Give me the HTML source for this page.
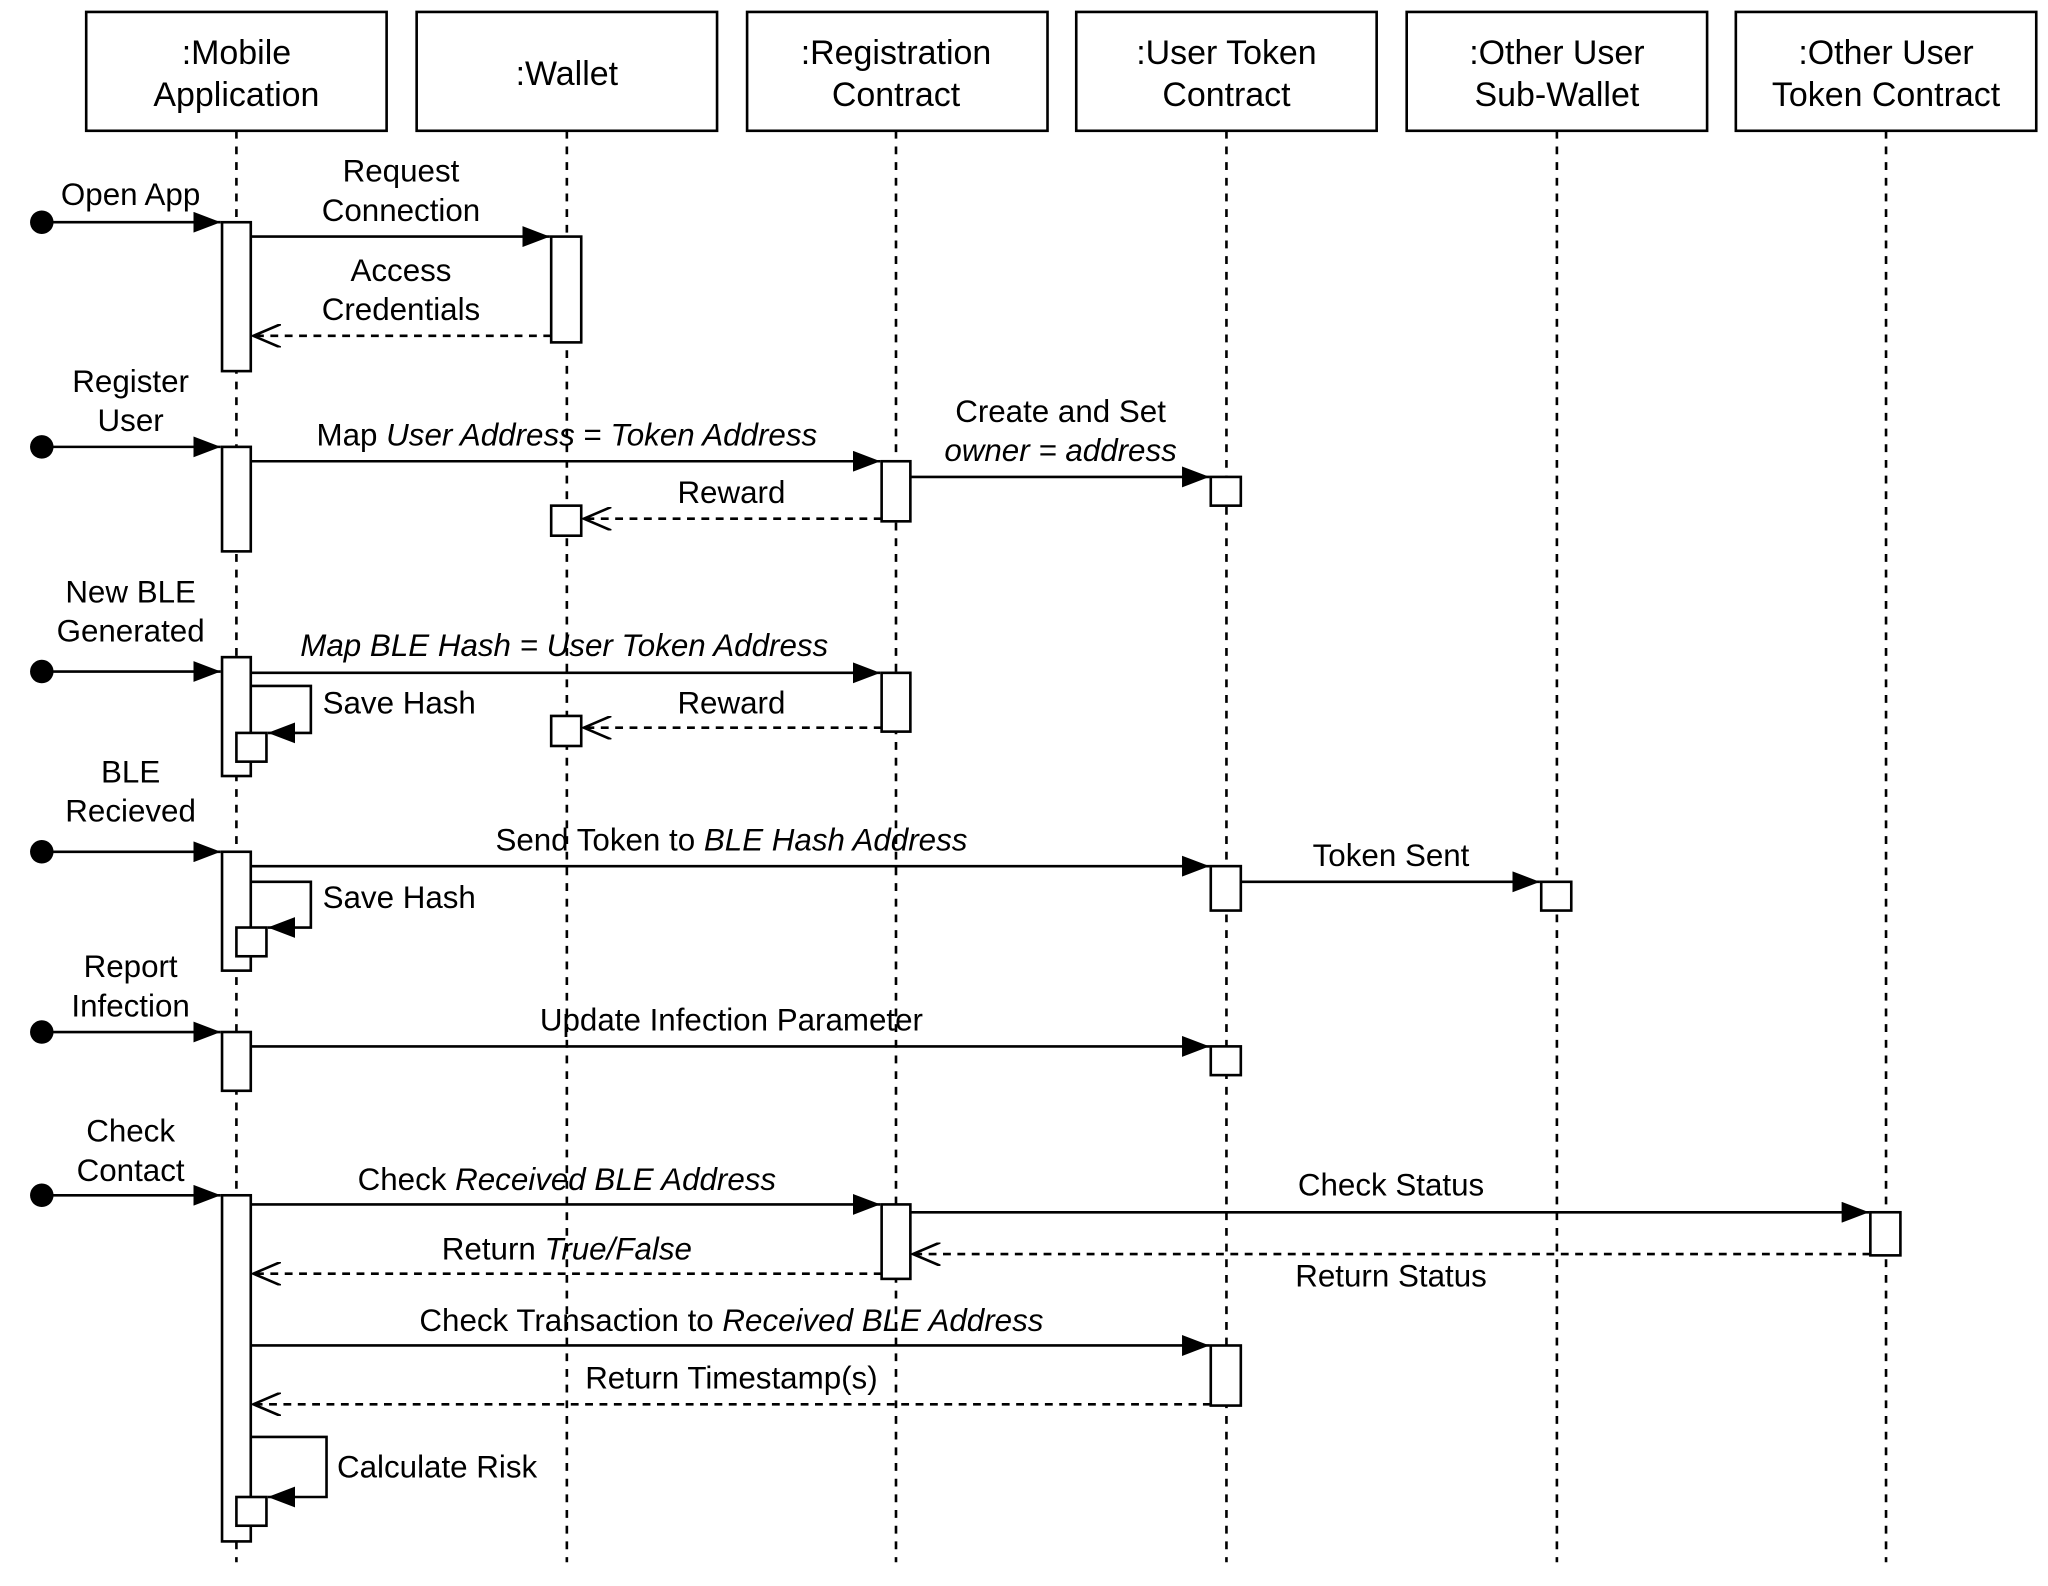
<!DOCTYPE html>
<html><head><meta charset="utf-8"><style>
html,body{margin:0;padding:0;background:#fff;}
svg{display:block;}
text{font-family:"Liberation Sans",Arial,sans-serif;font-size:24px;fill:#000;}
.h{font-size:26px;}
</style></head><body>
<svg width="2048" height="1586" viewBox="0 0 1568 1214" xmlns="http://www.w3.org/2000/svg">
<defs>
<marker id="f" markerWidth="22" markerHeight="16" refX="21" refY="8" orient="auto" markerUnits="userSpaceOnUse"><path d="M0,0 L21,8 L0,16 Z" fill="#000"/></marker>
<marker id="o" markerWidth="22" markerHeight="18" refX="21" refY="9" orient="auto" markerUnits="userSpaceOnUse"><path d="M0,0 L21,9 L0,18" fill="none" stroke="#000" stroke-width="2"/></marker>
</defs>
<g fill="#fff" stroke="#000" stroke-width="2">
<rect x="66" y="9" width="230" height="91"/><rect x="319" y="9" width="230" height="91"/><rect x="572" y="9" width="230" height="91"/><rect x="824" y="9" width="230" height="91"/><rect x="1077" y="9" width="230" height="91"/><rect x="1329" y="9" width="230" height="91"/>
</g>
<g stroke="#000" stroke-width="2" stroke-dasharray="6,6">
<line x1="181" y1="100" x2="181" y2="1196"/><line x1="434" y1="100" x2="434" y2="1196"/><line x1="686" y1="100" x2="686" y2="1196"/><line x1="939" y1="100" x2="939" y2="1196"/><line x1="1192" y1="100" x2="1192" y2="1196"/><line x1="1444" y1="100" x2="1444" y2="1196"/>
</g>
<g text-anchor="middle" class="h">
<text class="h" x="181" y="49">:Mobile</text><text class="h" x="181" y="81">Application</text>
<text class="h" x="434" y="65">:Wallet</text>
<text class="h" x="686" y="49">:Registration</text><text class="h" x="686" y="81">Contract</text>
<text class="h" x="939" y="49">:User Token</text><text class="h" x="939" y="81">Contract</text>
<text class="h" x="1192" y="49">:Other User</text><text class="h" x="1192" y="81">Sub-Wallet</text>
<text class="h" x="1444" y="49">:Other User</text><text class="h" x="1444" y="81">Token Contract</text>
</g>
<!-- start dots -->
<g fill="#000"><circle cx="32" cy="170" r="9"/><circle cx="32" cy="342" r="9"/><circle cx="32" cy="514" r="9"/><circle cx="32" cy="652" r="9"/><circle cx="32" cy="790" r="9"/><circle cx="32" cy="915" r="9"/></g>
<g stroke="#000" stroke-width="2" fill="none">
<line x1="32" y1="170" x2="169" y2="170" marker-end="url(#f)"/>
<line x1="32" y1="342" x2="169" y2="342" marker-end="url(#f)"/>
<line x1="32" y1="514" x2="169" y2="514" marker-end="url(#f)"/>
<line x1="32" y1="652" x2="169" y2="652" marker-end="url(#f)"/>
<line x1="32" y1="790" x2="169" y2="790" marker-end="url(#f)"/>
<line x1="32" y1="915" x2="169" y2="915" marker-end="url(#f)"/>
</g>
<!-- activations -->
<g fill="#fff" stroke="#000" stroke-width="2">
<rect x="170" y="170" width="22" height="114"/>
<rect x="422" y="181" width="23" height="81"/>
<rect x="170" y="342" width="22" height="80"/>
<rect x="675" y="353" width="22" height="46"/>
<rect x="927" y="365" width="23" height="22"/>
<rect x="422" y="387" width="23" height="23"/>
<rect x="170" y="503" width="22" height="91"/>
<rect x="675" y="515" width="22" height="45"/>
<rect x="422" y="548" width="23" height="23"/>
<rect x="170" y="652" width="22" height="91"/>
<rect x="927" y="663" width="23" height="34"/>
<rect x="1180" y="675" width="23" height="22"/>
<rect x="170" y="790" width="22" height="45"/>
<rect x="927" y="801" width="23" height="22"/>
<rect x="170" y="915" width="22" height="265"/>
<rect x="675" y="922" width="22" height="57"/>
<rect x="1432" y="928" width="23" height="33"/>
<rect x="927" y="1030" width="23" height="46"/>
</g>
<!-- messages -->
<g stroke="#000" stroke-width="2" fill="none">
<line x1="192" y1="181" x2="421" y2="181" marker-end="url(#f)"/>
<line x1="422" y1="257" x2="194" y2="257" stroke-dasharray="6,5" marker-end="url(#o)"/>
<line x1="192" y1="353" x2="674" y2="353" marker-end="url(#f)"/>
<line x1="697" y1="365" x2="926" y2="365" marker-end="url(#f)"/>
<line x1="675" y1="397" x2="447" y2="397" stroke-dasharray="6,5" marker-end="url(#o)"/>
<line x1="192" y1="515" x2="674" y2="515" marker-end="url(#f)"/>
<polyline points="192,525 238,525 238,561 205,561" marker-end="url(#f)"/>
<line x1="675" y1="557" x2="447" y2="557" stroke-dasharray="6,5" marker-end="url(#o)"/>
<line x1="192" y1="663" x2="926" y2="663" marker-end="url(#f)"/>
<polyline points="192,675 238,675 238,710 205,710" marker-end="url(#f)"/>
<line x1="950" y1="675" x2="1179" y2="675" marker-end="url(#f)"/>
<line x1="192" y1="801" x2="926" y2="801" marker-end="url(#f)"/>
<line x1="192" y1="922" x2="674" y2="922" marker-end="url(#f)"/>
<line x1="697" y1="928" x2="1431" y2="928" marker-end="url(#f)"/>
<line x1="1432" y1="960" x2="699" y2="960" stroke-dasharray="6,5" marker-end="url(#o)"/>
<line x1="675" y1="975" x2="194" y2="975" stroke-dasharray="6,5" marker-end="url(#o)"/>
<line x1="192" y1="1030" x2="926" y2="1030" marker-end="url(#f)"/>
<line x1="927" y1="1075" x2="194" y2="1075" stroke-dasharray="6,5" marker-end="url(#o)"/>
<polyline points="192,1100 250,1100 250,1146 205,1146" marker-end="url(#f)"/>
</g>
<g fill="#fff" stroke="#000" stroke-width="2">
<rect x="181" y="561" width="23" height="22"/>
<rect x="181" y="710" width="23" height="22"/>
<rect x="181" y="1146" width="23" height="22"/>
</g>
<!-- labels -->
<g text-anchor="middle">
<text x="100" y="157">Open App</text>
<text x="307" y="139">Request</text><text x="307" y="169">Connection</text>
<text x="307" y="215">Access</text><text x="307" y="245">Credentials</text>
<text x="100" y="300">Register</text><text x="100" y="330">User</text>
<text x="434" y="341">Map <tspan font-style="italic">User Address</tspan> = <tspan font-style="italic">Token Address</tspan></text>
<text x="812" y="323">Create and Set</text><text x="812" y="353" font-style="italic">owner = address</text>
<text x="560" y="385">Reward</text>
<text x="100" y="461">New BLE</text><text x="100" y="491">Generated</text>
<text x="432" y="502" font-style="italic">Map BLE Hash = User Token Address</text>
<text x="560" y="546">Reward</text>
<text x="100" y="599">BLE</text><text x="100" y="629">Recieved</text>
<text x="560" y="651">Send Token to <tspan font-style="italic">BLE Hash Address</tspan></text>
<text x="1065" y="663">Token Sent</text>
<text x="100" y="748">Report</text><text x="100" y="778">Infection</text>
<text x="560" y="789">Update Infection Parameter</text>
<text x="100" y="874">Check</text><text x="100" y="904">Contact</text>
<text x="434" y="911">Check <tspan font-style="italic">Received BLE Address</tspan></text>
<text x="1065" y="915">Check Status</text>
<text x="1065" y="985">Return Status</text>
<text x="434" y="964">Return <tspan font-style="italic">True/False</tspan></text>
<text x="560" y="1019">Check Transaction to <tspan font-style="italic">Received BLE Address</tspan></text>
<text x="560" y="1063">Return Timestamp(s)</text>
</g>
<text x="247" y="546">Save Hash</text>
<text x="247" y="695">Save Hash</text>
<text x="258" y="1131">Calculate Risk</text>
</svg>
</body></html>
